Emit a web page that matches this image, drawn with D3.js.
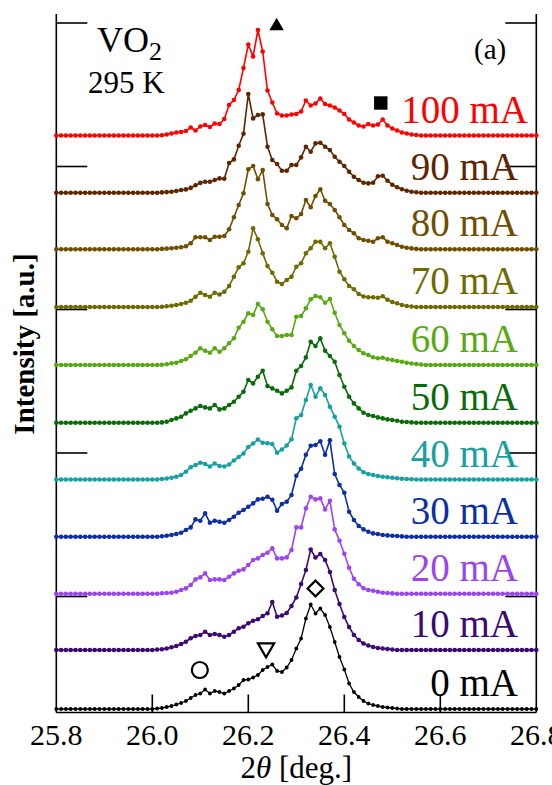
<!DOCTYPE html>
<html>
<head>
<meta charset="utf-8">
<script src="https://cdn.jsdelivr.net/npm/d3@7"></script>
<style>
    body { margin: 0; background: #fff; }
    svg { display: block; font-family: "Liberation Serif", "Times New Roman", serif; }
</style>
</head>
<body>
<svg id="chart" width="552" height="785"></svg>
<script>
// 2theta grid (deg.)
const angles = [
    25.80, 25.81, 25.82, 25.83, 25.84, 25.85, 25.86, 25.87, 25.88, 25.89,
    25.90, 25.91, 25.92, 25.93, 25.94, 25.95, 25.96, 25.97, 25.98, 25.99,
    26.00, 26.01, 26.02, 26.03, 26.04, 26.05, 26.06, 26.07, 26.08, 26.09,
    26.10, 26.11, 26.12, 26.13, 26.14, 26.15, 26.16, 26.17, 26.18, 26.19,
    26.20, 26.21, 26.22, 26.23, 26.24, 26.25, 26.26, 26.27, 26.28, 26.29,
    26.30, 26.31, 26.32, 26.33, 26.34, 26.35, 26.36, 26.37, 26.38, 26.39,
    26.40, 26.41, 26.42, 26.43, 26.44, 26.45, 26.46, 26.47, 26.48, 26.49,
    26.50, 26.51, 26.52, 26.53, 26.54, 26.55, 26.56, 26.57, 26.58, 26.59,
    26.60, 26.61, 26.62, 26.63, 26.64, 26.65, 26.66, 26.67, 26.68, 26.69,
    26.70, 26.71, 26.72, 26.73, 26.74, 26.75, 26.76, 26.77, 26.78, 26.79,
    26.80
];

const flat20 = [0, 0, 0, 0, 0, 0, 0, 0, 0, 0, 0, 0, 0, 0, 0, 0, 0, 0, 0, 0];

// intensities (a.u.), one array per current
const i0 = [...flat20,
    0, 0.5, 1, 2, 3, 4.5, 6, 8, 11, 14,
    15.5, 19.5, 15.5, 18, 17, 15.5, 18, 20.5, 24, 29,
    29.5, 31.5, 34, 39, 42, 44.5, 38, 37, 41.5, 49,
    60.5, 70.5, 90.5, 104.5, 95.5, 100.5, 94, 82, 67, 52,
    39.5, 25.5, 17, 12, 8, 5.5, 4, 3, 2, 1.5,
    1, 0.5, 0, 0, 0, 0, 0, 0, 0, 0,
    0, 0, 0, 0, 0, 0, 0, 0, 0, 0,
    0, 0, 0, 0, 0, 0, 0, 0, 0, 0,
    0];
const i10 = [...flat20,
    0, 0.5, 0.7, 1.5, 2.7, 4, 6, 8.3, 11.7, 14,
    15, 18.3, 15, 16, 15, 13.3, 15, 18.3, 21.7, 23.3,
    26.7, 29.3, 30.7, 34, 36.7, 48, 33.3, 34.5, 37, 44,
    52.5, 66, 80, 100.5, 92.5, 96, 90, 78, 60, 46,
    33, 23, 15, 10, 6.5, 4.5, 3, 2, 1.5, 1,
    0.5, 0, 0, 0, 0, 0, 0, 0, 0, 0,
    0, 0, 0, 0, 0, 0, 0, 0, 0, 0,
    0, 0, 0, 0, 0, 0, 0, 0, 0, 0,
    0];
const i20 = [...flat20,
    0, 0, 0.5, 0.7, 1, 2, 3.7, 5.3, 8.7, 14.3,
    16.3, 20.3, 13.7, 14.3, 14.3, 13.7, 17, 20.3, 23, 24.3,
    28.7, 33.7, 35.3, 38.7, 41, 45.3, 35.3, 35.3, 36.3, 43.7,
    66.3, 66.3, 85.3, 97, 94.3, 95.3, 84.3, 93, 64.3, 53,
    40, 26, 15, 9.5, 5.5, 3.7, 3, 2, 1, 0.7,
    0.3, 0, 0, 0, 0, 0, 0, 0, 0, 0,
    0, 0, 0, 0, 0, 0, 0, 0, 0, 0,
    0, 0, 0, 0, 0, 0, 0, 0, 0, 0,
    0];
const i30 = [...flat20,
    0, 0, 0.5, 1, 1.7, 2.7, 4, 6.7, 9.3, 17.3,
    16, 23.3, 14, 16, 15, 14, 16.7, 20, 24, 26.7,
    30, 33.3, 37.3, 38, 40, 37, 26, 32.7, 35, 41.7,
    61, 68, 82, 91, 91.7, 95.5, 82, 96.5, 62.7, 51.7,
    44, 25, 16.7, 10.7, 7.3, 5, 3.3, 2.7, 1.7, 1.3,
    1, 0.7, 0.3, 0, 0, 0, 0, 0, 0, 0,
    0, 0, 0, 0, 0, 0, 0, 0, 0, 0,
    0, 0, 0, 0, 0, 0, 0, 0, 0, 0,
    0];
const i40 = [...flat20,
    0, 0, 0.5, 1, 1.7, 2.8, 4.5, 7.8, 12.2, 14.5,
    16.8, 15.5, 13, 16, 13.5, 13, 15, 19, 22.5, 26,
    32.5, 36, 40, 36.8, 36.2, 35.5, 26.8, 30, 34, 40.2,
    61.2, 64.5, 79.5, 94.5, 82.8, 91.2, 84.5, 72.8, 62.8, 52.8,
    36, 23, 16, 11, 7.3, 5.5, 4.5, 3.5, 2.8, 2.2,
    1.8, 1.2, 0.8, 0.5, 0.3, 0, 0, 0, 0, 0,
    0, 0, 0, 0, 0, 0, 0, 0, 0, 0,
    0, 0, 0, 0, 0, 0, 0, 0, 0, 0,
    0];
const i50 = [...flat20,
    0, 0, 0.3, 1, 2.7, 4.3, 6, 9.3, 12, 14.3,
    16.7, 15.3, 14.3, 17.7, 13.3, 14.3, 17.7, 21, 26, 31,
    42.7, 39.3, 46, 52, 36.7, 34.3, 32, 29.3, 32, 35.3,
    52, 56.7, 65.3, 81, 76.7, 84.3, 72, 66.7, 61, 47.7,
    36, 26, 19.3, 14.3, 10, 7.7, 6.7, 5.3, 4.3, 3.3,
    2.7, 2, 1, 0.7, 0.3, 0, 0, 0, 0, 0,
    0, 0, 0, 0, 0, 0, 0, 0, 0, 0,
    0, 0, 0, 0, 0, 0, 0, 0, 0, 0,
    0];
const i60 = [...flat20,
    0, 0, 0.3, 0.8, 1.7, 2.3, 4, 5.7, 9, 12.3,
    16.7, 14.3, 12.3, 16.7, 13.3, 16.7, 21.7, 26.7, 37.3, 43.3,
    51.7, 50, 61, 55.7, 43.3, 35.7, 29, 29, 30, 30,
    48.3, 49, 56.7, 65.7, 69, 67.7, 62.3, 66, 52.3, 40,
    31.7, 24.3, 19, 15, 11.7, 10, 7.7, 6.7, 7.3, 5.7,
    5, 4, 3.3, 2.3, 1.5, 1, 0.5, 0, 0, 0,
    0, 0, 0, 0, 0, 0, 0, 0, 0, 0,
    0, 0, 0, 0, 0, 0, 0, 0, 0, 0,
    0];
const i70 = [...flat20,
    0, 0, 0.3, 0.7, 1.3, 2, 3, 4.3, 6.3, 10.3,
    14.3, 12, 10.3, 14.3, 12.5, 15.3, 21, 30.3, 39.7, 43.7,
    55.3, 78.7, 67.7, 53.7, 41, 34.3, 25.3, 23, 27, 30.3,
    40.3, 43.7, 53.7, 58.7, 65.3, 65.3, 58.7, 63.7, 50.3, 35.3,
    27.7, 21, 17.7, 13, 10.5, 9.7, 9.7, 9.3, 10.7, 7.3,
    5, 3.7, 2, 1, 0.5, 0, 0, 0, 0, 0,
    0, 0, 0, 0, 0, 0, 0, 0, 0, 0,
    0, 0, 0, 0, 0, 0, 0, 0, 0, 0,
    0];
const i80 = [...flat20,
    0, 0, 0.3, 0.6, 1, 1.5, 2, 3, 6, 11.9,
    11.9, 11.9, 9.2, 12.5, 12.5, 13.2, 19.9, 31.9, 44.2, 55.9,
    79.9, 83.2, 69.9, 79.2, 45.2, 34.2, 29.9, 24.2, 20.9, 33.2,
    30.9, 35.2, 49.2, 41.9, 53.2, 59.9, 48.5, 45.2, 39.2, 31.9,
    24.2, 19.2, 15.9, 10.9, 9.2, 8.5, 7.5, 10.9, 11.9, 7.5,
    5.9, 4.2, 2.5, 1.5, 0.8, 0.3, 0, 0, 0, 0,
    0, 0, 0, 0, 0, 0, 0, 0, 0, 0,
    0, 0, 0, 0, 0, 0, 0, 0, 0, 0,
    0];
const i90 = [...flat20,
    0, 0, 0.3, 0.6, 1, 1.7, 2.7, 3.3, 4.8, 7.5,
    9.8, 11, 11, 12.7, 14.3, 14, 29.7, 33.3, 47, 59,
    98.7, 74.3, 77.7, 78.3, 46, 32.7, 28.7, 22, 22, 27.7,
    27.7, 35.3, 46, 41, 49.3, 50, 46, 42.7, 36, 31,
    26.7, 21, 16, 12.7, 10, 9.3, 10, 16.5, 17, 12,
    8, 5.5, 3.5, 2, 1, 0.5, 0, 0, 0, 0,
    0, 0, 0, 0, 0, 0, 0, 0, 0, 0,
    0, 0, 0, 0, 0, 0, 0, 0, 0, 0,
    0];
const i100 = [...flat20,
    0, 0, 0.3, 1, 2, 3, 3.5, 4.5, 8, 5,
    9, 10.5, 8.5, 12, 11.5, 16.5, 30.5, 35.5, 45.5, 67.5,
    91, 79, 105.5, 84, 45, 33, 22, 20, 20, 21,
    21.5, 24, 35, 30, 32, 37, 31.5, 30, 28, 25,
    21.5, 16, 13, 10, 9, 11.5, 10, 11, 16, 10,
    7, 5, 3, 2, 1, 0.5, 0, 0, 0, 0,
    0, 0, 0, 0, 0, 0, 0, 0, 0, 0,
    0, 0, 0, 0, 0, 0, 0, 0, 0, 0,
    0];

const labels = ["0 mA", "10 mA", "20 mA", "30 mA", "40 mA", "50 mA", "60 mA", "70 mA", "80 mA", "90 mA", "100 mA"];
const offsets = [3.5, 62.5, 118.8, 175.8, 233, 289.8, 347.5, 405.5, 463.3, 519.8, 577];
const colors = ["#000000", "#3c0a73", "#9b45f0", "#0d2fa5", "#17a0a0", "#0a6b0a",
    "#5aa815", "#6e6a00", "#6e4e00", "#5e2600", "#ff0000"];
const intensities = [i0, i10, i20, i30, i40, i50, i60, i70, i80, i90, i100];

const xTicks = [25.8, 26.0, 26.2, 26.4, 26.6, 26.8];
const yTicks = [116, 259.5, 403, 546, 689.5];

// peak markers: angle, height (a.u.), symbol
const markers = [
    { angle: 26.259, level: 686.5, type: "triUp" },
    { angle: 26.476, level: 609.5, type: "square" },
    { angle: 26.340, level: 124, type: "diamond" },
    { angle: 26.237, level: 64.5, type: "triDown" },
    { angle: 26.099, level: 42.5, type: "circle" }
];

const series = labels.map((label, i) => ({
    label,
    color: colors[i],
    offset: offsets[i],
    points: angles.map((a, j) => ({ angle: a, value: intensities[i][j] + offsets[i] }))
}));

const svg = d3.select("#chart");
const plotL = 56.3, plotR = 536.3, plotT = 14, plotB = 712.5;

const xScale = d3.scaleLinear().domain([25.8, 26.8]).range([plotL, plotR]);
const yScale = d3.scaleLinear().domain([0, plotB - plotT]).range([plotB, plotT]);

// frame: left, right and bottom lines only
const axes = svg.append("g")
    .attr("stroke", "#000")
    .attr("stroke-width", 1.6)
    .attr("fill", "none");
axes.append("line").attr("x1", plotL).attr("x2", plotL).attr("y1", plotT).attr("y2", plotB);
axes.append("line").attr("x1", plotR).attr("x2", plotR).attr("y1", plotT).attr("y2", plotB);
axes.append("line").attr("x1", plotL).attr("x2", plotR).attr("y1", plotB).attr("y2", plotB);

axes.selectAll(".xtick")
    .data(xTicks.slice(1, -1))
    .join("line")
    .attr("class", "xtick")
    .attr("x1", d => xScale(d)).attr("x2", d => xScale(d))
    .attr("y1", plotB).attr("y2", plotB - 18);

axes.selectAll(".ytick-l")
    .data(yTicks)
    .join("line")
    .attr("class", "ytick-l")
    .attr("x1", plotL).attr("x2", plotL + 31)
    .attr("y1", d => yScale(d)).attr("y2", d => yScale(d));

axes.selectAll(".ytick-r")
    .data(yTicks)
    .join("line")
    .attr("class", "ytick-r")
    .attr("x1", plotR - 31).attr("x2", plotR)
    .attr("y1", d => yScale(d)).attr("y2", d => yScale(d));

svg.append("g")
    .selectAll("text")
    .data(xTicks)
    .join("text")
    .attr("x", d => xScale(d))
    .attr("y", 745)
    .attr("text-anchor", "middle")
    .attr("font-size", 30)
    .text(d => d.toFixed(1));

const xTitle = svg.append("text")
    .attr("x", (plotL + plotR) / 2)
    .attr("y", 778)
    .attr("text-anchor", "middle")
    .attr("font-size", 31);
xTitle.append("tspan").text("2");
xTitle.append("tspan").attr("font-style", "italic").text("θ");
xTitle.append("tspan").text(" [deg.]");

svg.append("text")
    .attr("transform", "translate(34,344) rotate(-90)")
    .attr("text-anchor", "middle")
    .attr("font-size", 29)
    .attr("font-weight", "bold")
    .text("Intensity [a.u.]");

// spectra
const line = d3.line()
    .x(d => xScale(d.angle))
    .y(d => yScale(d.value));

const groups = svg.append("g")
    .selectAll(".series")
    .data(series)
    .join("g")
    .attr("class", "series");

groups.append("path")
    .attr("d", d => line(d.points))
    .attr("fill", "none")
    .attr("stroke", d => d.color)
    .attr("stroke-width", d => d.label === "0 mA" ? 1.3 : 1.6);

groups.selectAll("circle")
    .data(d => d.points.map(p => ({ ...p, color: d.color, small: d.label === "0 mA" })))
    .join("circle")
    .attr("cx", d => xScale(d.angle))
    .attr("cy", d => yScale(d.value))
    .attr("r", d => d.small ? 1.9 : 2.3)
    .attr("fill", d => d.color);

// current labels
svg.append("g")
    .selectAll("text")
    .data(series)
    .join("text")
    .attr("x", d => d.label === "100 mA" ? 528 : 518)
    .attr("y", d => yScale(d.offset + 13))
    .attr("text-anchor", "end")
    .attr("font-size", 39)
    .attr("fill", d => d.color)
    .text(d => d.label);

// annotations
const vo2 = svg.append("text")
    .attr("x", 97)
    .attr("y", 52)
    .attr("font-size", 36);
vo2.append("tspan").text("VO");
vo2.append("tspan").attr("font-size", 26).attr("dy", 8).text("2");

svg.append("text")
    .attr("x", 88)
    .attr("y", 93)
    .attr("font-size", 31)
    .text("295 K");

svg.append("text")
    .attr("x", 474)
    .attr("y", 59)
    .attr("font-size", 29)
    .text("(a)");

const symbolPath = t => {
    if (t === "triUp") return d3.symbol(d3.symbolTriangle, 90)();
    if (t === "triDown") return d3.symbol(d3.symbolTriangle, 115)();
    if (t === "square") return d3.symbol(d3.symbolSquare, 180)();
    if (t === "diamond") return d3.symbol(d3.symbolSquare, 125)();
    return d3.symbol(d3.symbolCircle, Math.PI * 8 * 8)();
};

svg.append("g")
    .selectAll("path")
    .data(markers)
    .join("path")
    .attr("d", d => symbolPath(d.type))
    .attr("transform", d => {
        const rot = d.type === "triDown" ? 180 : d.type === "diamond" ? 45 : 0;
        return `translate(${xScale(d.angle)},${yScale(d.level)}) rotate(${rot})`;
    })
    .attr("fill", d => d.type === "triUp" || d.type === "square" ? "#000" : "none")
    .attr("stroke", "#000")
    .attr("stroke-width", d => d.type === "triUp" || d.type === "square" ? 0 : 2.2);
</script>
</body>
</html>
